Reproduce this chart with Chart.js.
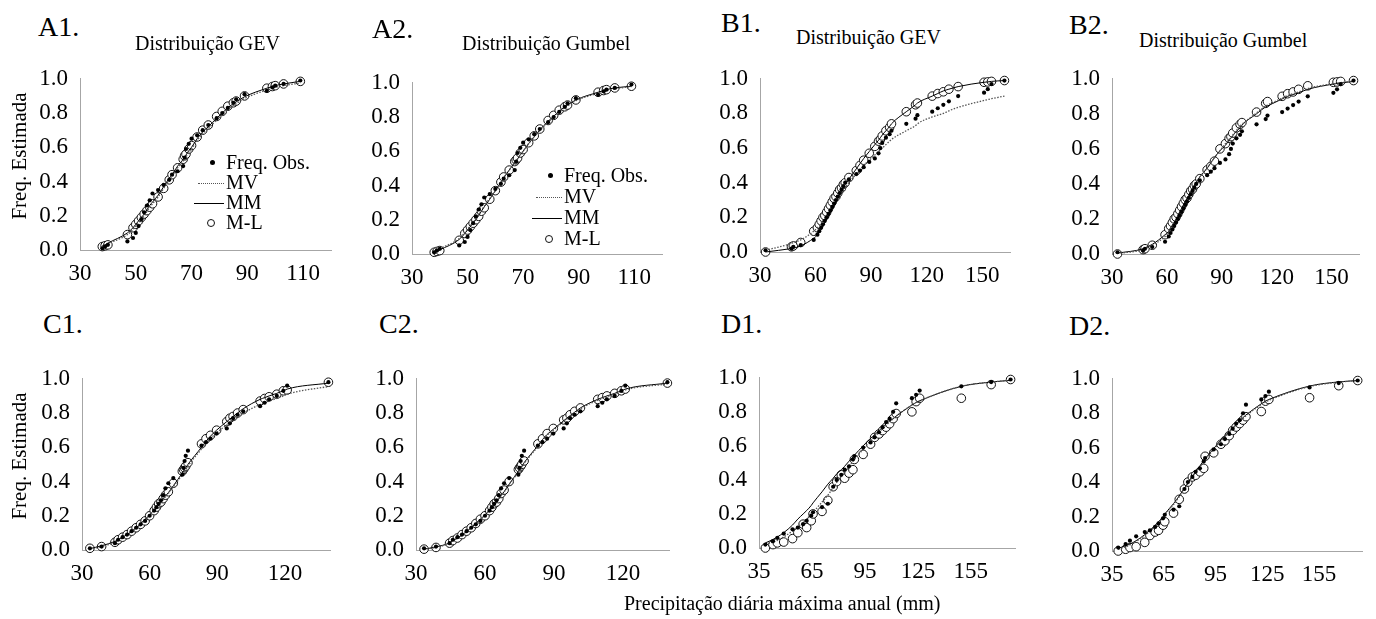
<!DOCTYPE html>
<html><head><meta charset="utf-8">
<script src="https://cdn.jsdelivr.net/npm/chart.js@4.4.0/dist/chart.umd.min.js"></script>
<style>
html,body{margin:0;padding:0;background:#fff;}
body{width:1376px;height:619px;position:relative;overflow:hidden;font-family:"Liberation Serif","Times New Roman",serif;color:#000;}
canvas{position:absolute;}
.t{position:absolute;white-space:nowrap;line-height:1;color:#000;}
.lab{font-size:28px;}
.ttl{font-size:20px;}
.yt{font-size:21px;transform:translate(-50%,-50%) rotate(-90deg);}
.lg{position:absolute;font-size:20px;line-height:1;white-space:nowrap;}
.sym{position:absolute;}
</style></head>
<body>
<script>
// ---------- data ----------
const yTicks = [0, 0.2, 0.4, 0.6, 0.8, 1.0];
const xTicksA = [30, 50, 70, 90, 110];
const xTicksB = [30, 60, 90, 120, 150];
const xTicksC = [30, 60, 90, 120];
const xTicksD = [35, 65, 95, 125, 155];

const panelNames = ['A1.', 'A2.', 'B1.', 'B2.', 'C1.', 'C2.', 'D1.', 'D2.'];
const panelTitles = ['Distribuição GEV', 'Distribuição Gumbel', 'Distribuição GEV', 'Distribuição Gumbel', '', '', '', ''];
const seriesNames = ['Freq. Obs.', 'MV', 'MM', 'M-L'];
const yAxisTitle = 'Freq. Estimada';
const xAxisTitle = 'Precipitação diária máxima anual (mm)';

// Station A
const precipA = [38,39,40,47,49,50,51,52,53,54,55,56,58,60,62,63,65,67,67.5,68,69,70,72,74,76,79,81,83,85,86,89,97,99,100,103,109];
const obsA = [0.01,0.02,0.03,0.05,0.07,0.10,0.14,0.18,0.22,0.26,0.29,0.33,0.35,0.38,0.41,0.44,0.46,0.49,0.54,0.59,0.62,0.65,0.67,0.70,0.73,0.77,0.80,0.83,0.86,0.88,0.91,0.93,0.95,0.96,0.97,0.99];
const mvA1 = [0.02,0.025,0.035,0.09,0.12,0.14,0.16,0.18,0.2,0.225,0.25,0.27,0.31,0.36,0.41,0.43,0.48,0.52,0.535,0.545,0.57,0.59,0.64,0.68,0.71,0.76,0.79,0.82,0.845,0.855,0.885,0.935,0.945,0.95,0.96,0.975];
const mmA1 = [0.025,0.03,0.04,0.1,0.13,0.15,0.17,0.19,0.21,0.235,0.26,0.28,0.32,0.37,0.42,0.44,0.49,0.53,0.545,0.555,0.58,0.6,0.65,0.69,0.72,0.77,0.8,0.83,0.855,0.865,0.895,0.945,0.955,0.96,0.97,0.985];
const mlA1 = [0.02,0.025,0.03,0.09,0.13,0.15,0.17,0.19,0.21,0.23,0.25,0.27,0.31,0.36,0.41,0.44,0.48,0.53,0.55,0.56,0.59,0.61,0.66,0.70,0.73,0.78,0.81,0.84,0.86,0.87,0.90,0.945,0.955,0.96,0.97,0.985];
const mvA2 = [0.015,0.02,0.03,0.09,0.125,0.145,0.165,0.185,0.205,0.23,0.255,0.28,0.325,0.37,0.42,0.445,0.49,0.535,0.545,0.555,0.58,0.6,0.645,0.685,0.72,0.77,0.8,0.83,0.855,0.865,0.895,0.94,0.95,0.955,0.965,0.978];
const mmA2 = [0.012,0.018,0.025,0.085,0.12,0.14,0.16,0.18,0.2,0.225,0.25,0.275,0.32,0.37,0.42,0.445,0.49,0.535,0.545,0.555,0.58,0.6,0.645,0.685,0.725,0.775,0.805,0.835,0.86,0.87,0.9,0.945,0.955,0.96,0.97,0.98];
const mlA2 = [0.01,0.015,0.02,0.08,0.12,0.14,0.16,0.18,0.2,0.22,0.25,0.27,0.32,0.37,0.42,0.45,0.49,0.54,0.55,0.56,0.59,0.61,0.65,0.69,0.73,0.78,0.81,0.84,0.86,0.87,0.9,0.945,0.955,0.96,0.97,0.98];

// Station B
const precipB = [33,47,48,52,59,61,62,63,64,65,66,67,68,69,70,71,72,73,74,75,76,78,82,84,86,89,92,94,95,96,98,100,101,109,114,115,123,126,129,132,137,151,153,155,162];
const obsB = [0.01,0.02,0.03,0.04,0.07,0.1,0.12,0.14,0.16,0.18,0.2,0.22,0.24,0.26,0.28,0.3,0.32,0.34,0.36,0.38,0.4,0.42,0.45,0.47,0.49,0.52,0.54,0.57,0.6,0.63,0.66,0.68,0.7,0.74,0.77,0.79,0.81,0.83,0.85,0.87,0.9,0.92,0.94,0.97,0.99];
const mvB1 = [0.01,0.05,0.055,0.07,0.12,0.14,0.15,0.165,0.18,0.195,0.21,0.225,0.24,0.26,0.275,0.29,0.31,0.325,0.34,0.355,0.37,0.4,0.45,0.47,0.5,0.53,0.56,0.58,0.59,0.6,0.62,0.64,0.65,0.7,0.73,0.74,0.78,0.79,0.8,0.815,0.835,0.875,0.88,0.885,0.9];
const mmB1 = [0.0,0.02,0.022,0.035,0.08,0.1,0.12,0.13,0.15,0.17,0.19,0.21,0.23,0.25,0.27,0.29,0.31,0.33,0.35,0.37,0.39,0.42,0.48,0.51,0.54,0.58,0.62,0.645,0.66,0.675,0.7,0.725,0.74,0.81,0.85,0.86,0.9,0.915,0.93,0.94,0.955,0.98,0.982,0.985,0.99];
const mlB1 = [0.0,0.03,0.035,0.055,0.12,0.14,0.16,0.18,0.2,0.21,0.23,0.25,0.27,0.29,0.31,0.32,0.34,0.36,0.37,0.39,0.4,0.43,0.47,0.5,0.53,0.57,0.61,0.64,0.65,0.67,0.7,0.72,0.74,0.81,0.85,0.86,0.9,0.915,0.925,0.94,0.955,0.98,0.982,0.985,0.99];
const mvB2 = [0.003,0.025,0.03,0.05,0.1,0.125,0.14,0.155,0.175,0.19,0.21,0.23,0.25,0.27,0.29,0.31,0.33,0.35,0.37,0.385,0.405,0.44,0.49,0.52,0.55,0.59,0.63,0.655,0.665,0.68,0.705,0.73,0.74,0.805,0.845,0.85,0.89,0.905,0.915,0.925,0.945,0.972,0.975,0.978,0.988];
const mmB2 = [0.005,0.03,0.035,0.055,0.11,0.13,0.15,0.165,0.18,0.2,0.22,0.24,0.26,0.28,0.3,0.315,0.335,0.355,0.37,0.39,0.41,0.44,0.49,0.52,0.55,0.59,0.62,0.65,0.66,0.675,0.7,0.72,0.735,0.8,0.84,0.845,0.885,0.9,0.91,0.92,0.94,0.97,0.973,0.976,0.985];
const mlB2 = [0.0,0.025,0.03,0.05,0.11,0.145,0.16,0.18,0.2,0.21,0.23,0.25,0.27,0.29,0.31,0.32,0.34,0.36,0.37,0.39,0.4,0.43,0.48,0.5,0.53,0.6,0.63,0.66,0.67,0.69,0.72,0.74,0.75,0.81,0.86,0.87,0.9,0.915,0.925,0.94,0.96,0.98,0.982,0.985,0.99];

// Station C
const precipC = [33.5,38.7,44.6,46,48,50,52,54,56,58,60,62,63,64,65,66,67,68.3,70.5,74.5,75,75.5,76,77,83,85,87,89.7,94.2,95.6,97,99,101.5,109,111,113,116.4,119.3,121,139.3];
const obsC = [0.01,0.02,0.04,0.06,0.075,0.09,0.11,0.13,0.15,0.17,0.2,0.23,0.25,0.27,0.29,0.32,0.36,0.39,0.42,0.44,0.48,0.52,0.55,0.58,0.61,0.63,0.65,0.68,0.71,0.74,0.77,0.79,0.81,0.84,0.86,0.88,0.9,0.93,0.96,0.98];
const mvC1 = [0.005,0.02,0.045,0.055,0.07,0.085,0.105,0.125,0.15,0.175,0.2,0.23,0.245,0.26,0.275,0.295,0.31,0.33,0.37,0.44,0.45,0.46,0.47,0.49,0.59,0.62,0.65,0.685,0.73,0.745,0.76,0.78,0.8,0.85,0.86,0.87,0.885,0.9,0.91,0.955];
const mmC1 = [0.008,0.025,0.05,0.06,0.075,0.09,0.11,0.13,0.155,0.18,0.205,0.235,0.25,0.265,0.28,0.3,0.315,0.335,0.375,0.45,0.46,0.47,0.48,0.5,0.6,0.635,0.665,0.7,0.75,0.765,0.78,0.8,0.825,0.88,0.89,0.9,0.915,0.93,0.94,0.975];
const mlC1 = [0.01,0.02,0.045,0.06,0.075,0.09,0.11,0.13,0.15,0.17,0.2,0.23,0.25,0.27,0.28,0.3,0.32,0.34,0.39,0.46,0.47,0.48,0.49,0.51,0.62,0.65,0.67,0.7,0.75,0.77,0.78,0.8,0.82,0.87,0.885,0.895,0.91,0.93,0.935,0.98];
const mvC2 = [0.004,0.016,0.04,0.053,0.068,0.086,0.106,0.128,0.152,0.178,0.203,0.232,0.248,0.262,0.278,0.298,0.318,0.338,0.382,0.455,0.465,0.475,0.485,0.505,0.605,0.64,0.67,0.7,0.75,0.765,0.78,0.8,0.825,0.875,0.885,0.895,0.91,0.925,0.935,0.97];
const mmC2 = [0.005,0.018,0.042,0.055,0.07,0.088,0.108,0.13,0.155,0.18,0.205,0.235,0.25,0.265,0.28,0.3,0.32,0.34,0.385,0.46,0.47,0.48,0.49,0.51,0.61,0.645,0.675,0.705,0.755,0.77,0.785,0.805,0.83,0.88,0.89,0.9,0.915,0.93,0.94,0.975];
const mlC2 = [0.005,0.015,0.04,0.055,0.07,0.09,0.11,0.13,0.155,0.18,0.2,0.23,0.25,0.27,0.28,0.3,0.33,0.35,0.4,0.47,0.48,0.49,0.5,0.52,0.62,0.65,0.68,0.71,0.76,0.77,0.79,0.81,0.83,0.88,0.89,0.9,0.915,0.93,0.94,0.975];

// Station D
const precipD = [38.6,42.9,45.4,49,54,57,60,62,64.6,65.6,70.7,74,77,79,81.6,83.5,86,88.2,89,94,98.2,100.5,103,105,107,109,111,112.7,121.6,124,126,149.6,166.5,177.5];
const obsD = [0.02,0.04,0.06,0.085,0.11,0.12,0.14,0.16,0.19,0.21,0.24,0.26,0.36,0.4,0.43,0.46,0.48,0.52,0.54,0.59,0.62,0.65,0.68,0.71,0.74,0.76,0.8,0.85,0.88,0.9,0.925,0.95,0.975,0.99];
const mvD1 = [0.02,0.035,0.045,0.065,0.1,0.125,0.15,0.17,0.2,0.21,0.27,0.31,0.355,0.385,0.42,0.445,0.48,0.51,0.52,0.58,0.63,0.655,0.68,0.7,0.72,0.74,0.76,0.775,0.84,0.855,0.865,0.95,0.975,0.985];
const mmD1 = [0.03,0.05,0.065,0.09,0.135,0.17,0.2,0.22,0.25,0.265,0.33,0.375,0.41,0.435,0.46,0.48,0.51,0.535,0.545,0.6,0.645,0.665,0.69,0.71,0.73,0.745,0.76,0.775,0.84,0.855,0.865,0.95,0.975,0.985];
const mlD1 = [0.0,0.02,0.03,0.035,0.055,0.09,0.14,0.12,0.16,0.2,0.215,0.28,0.36,0.39,0.43,0.41,0.44,0.46,0.52,0.55,0.61,0.65,0.67,0.69,0.71,0.73,0.76,0.79,0.8,0.86,0.88,0.88,0.96,0.99];
const mvD2 = [0.01,0.025,0.035,0.055,0.09,0.115,0.145,0.165,0.195,0.21,0.27,0.315,0.36,0.39,0.43,0.455,0.49,0.52,0.53,0.59,0.64,0.665,0.69,0.71,0.73,0.75,0.77,0.785,0.85,0.865,0.875,0.955,0.98,0.99];
const mmD2 = [0.015,0.03,0.04,0.06,0.095,0.12,0.15,0.17,0.2,0.215,0.275,0.32,0.365,0.395,0.435,0.46,0.495,0.525,0.535,0.595,0.645,0.67,0.695,0.715,0.735,0.755,0.775,0.79,0.855,0.87,0.88,0.958,0.982,0.99];
const mlD2 = [0.0,0.01,0.02,0.025,0.05,0.09,0.11,0.12,0.15,0.17,0.22,0.3,0.36,0.4,0.43,0.44,0.46,0.48,0.55,0.57,0.62,0.64,0.67,0.7,0.72,0.74,0.76,0.78,0.81,0.87,0.88,0.89,0.96,0.99];

// ---------- layout (plot-area boxes, axis ranges) ----------
const FONT = '"Liberation Serif","Times New Roman",serif';
const panels = [
  {name:0, box:{L:80,  T:63,  R:331,  B:250}, xmin:30, xmax:120, ticks:xTicksA, x:precipA, obs:obsA, mv:mvA1, mm:mmA1, ml:mlA1, lab:[38,13], ttl:[135,33]},
  {name:1, box:{L:412, T:67,  R:662,  B:254}, xmin:30, xmax:120, ticks:xTicksA, x:precipA, obs:obsA, mv:mvA2, mm:mmA2, ml:mlA2, lab:[372,15], ttl:[462,33]},
  {name:2, box:{L:760, T:63,  R:1010, B:252}, xmin:30, xmax:165, ticks:xTicksB, x:precipB, obs:obsB, mv:mvB1, mm:mmB1, ml:mlB1, lab:[721,9], ttl:[796,27]},
  {name:3, box:{L:1112,T:63,  R:1359, B:254}, xmin:30, xmax:165, ticks:xTicksB, x:precipB, obs:obsB, mv:mvB2, mm:mmB2, ml:mlB2, lab:[1069,11], ttl:[1139,30]},
  {name:4, box:{L:82,  T:363, R:330,  B:550}, xmin:30, xmax:140, ticks:xTicksC, x:precipC, obs:obsC, mv:mvC1, mm:mmC1, ml:mlC1, lab:[43,310]},
  {name:5, box:{L:416, T:363, R:669,  B:550}, xmin:30, xmax:140, ticks:xTicksC, x:precipC, obs:obsC, mv:mvC2, mm:mmC2, ml:mlC2, lab:[379,310]},
  {name:6, box:{L:759, T:362, R:1015, B:548}, xmin:35, xmax:180, ticks:xTicksD, x:precipD, obs:obsD, mv:mvD1, mm:mmD1, ml:mlD1, lab:[721,310]},
  {name:7, box:{L:1112,T:363, R:1362, B:551}, xmin:35, xmax:180, ticks:xTicksD, x:precipD, obs:obsD, mv:mvD2, mm:mmD2, ml:mlD2, lab:[1069,312]}
];

function addText(cls, txt, x, y, extra){
  const d = document.createElement('div');
  d.className = 't ' + cls; d.textContent = txt;
  d.style.left = x + 'px'; d.style.top = y + 'px';
  if (extra) Object.assign(d.style, extra);
  document.body.appendChild(d); return d;
}

const padL = 70, padT = 10, padR = 12, padB = 45;
function pts(xs, ys){ return xs.map((x,i)=>({x:x, y:ys[i]})); }

panels.forEach(p=>{
  const b = p.box;
  const w = (b.R - b.L) + padL + padR, h = (b.B - b.T) + padT + padB;
  const cv = document.createElement('canvas');
  cv.width = w; cv.height = h;
  cv.style.left = (b.L - padL) + 'px'; cv.style.top = (b.T - padT) + 'px';
  cv.style.width = w + 'px'; cv.style.height = h + 'px';
  document.body.appendChild(cv);
  new Chart(cv, {
    type: 'scatter',
    data: { datasets: [
      {label: seriesNames[0], data: pts(p.x, p.obs), showLine:false, pointRadius:2.1, pointBackgroundColor:'#000', pointBorderColor:'#000', pointBorderWidth:0, clip:false},
      {label: seriesNames[1], data: pts(p.x, p.mv), showLine:true, borderColor:'#555', borderWidth:1.3, borderDash:[1.5,1.5], pointRadius:0, cubicInterpolationMode:'monotone', fill:false, clip:false},
      {label: seriesNames[2], data: pts(p.x, p.mm), showLine:true, borderColor:'#000', borderWidth:1, pointRadius:0, cubicInterpolationMode:'monotone', fill:false, clip:false},
      {label: seriesNames[3], data: pts(p.x, p.ml), showLine:false, pointRadius:4.3, pointBackgroundColor:'#fff', pointBorderColor:'#111', pointBorderWidth:1, clip:false}
    ]},
    options: {
      responsive:false, maintainAspectRatio:false, animation:false,
      layout:{padding:{left:0, top:padT, right:padR, bottom:0}},
      plugins:{legend:{display:false}, tooltip:{enabled:false}},
      scales:{
        x:{type:'linear', min:p.xmin, max:p.xmax,
           afterBuildTicks: s=>{ s.ticks = p.ticks.map(v=>({value:v})); },
           afterFit: s=>{ s.height = padB; },
           grid:{display:false, drawTicks:false},
           border:{display:true, color:'#a6a6a6', width:1, dash:[2,1]},
           ticks:{font:{family:FONT, size:23}, color:'#000', padding:10, maxRotation:0, autoSkip:false}},
        y:{type:'linear', min:0, max:1,
           afterBuildTicks: s=>{ s.ticks = yTicks.map(v=>({value:v})); },
           afterFit: s=>{ s.width = padL; },
           grid:{display:false, drawTicks:false},
           border:{display:true, color:'#a6a6a6', width:1, dash:[2,1]},
           ticks:{font:{family:FONT, size:23}, color:'#000', padding:12, callback:v=>Number(v).toFixed(1)}}
      }
    }
  });
  addText('lab', panelNames[p.name], p.lab[0], p.lab[1]);
  if (p.ttl && panelTitles[p.name]) addText('ttl', panelTitles[p.name], p.ttl[0], p.ttl[1]);
});

// axis titles
addText('yt', yAxisTitle, 19, 156);
addText('yt', yAxisTitle, 19, 456);
addText('ttl', xAxisTitle, 624, 593);

// legends (A1, A2)
function legend(x0, y0, step){
  const sy = [0,1,2,3].map(i=>y0 + i*step);
  seriesNames.forEach((n,i)=>{
    const d = document.createElement('div'); d.className='lg'; d.textContent=n;
    d.style.left = (x0 + 28) + 'px'; d.style.top = (sy[i]-10) + 'px';
    document.body.appendChild(d);
  });
  const mk = (css)=>{ const s=document.createElement('div'); s.className='sym'; Object.assign(s.style, css); document.body.appendChild(s); };
  mk({left:(x0+12)+'px', top:(sy[0]-2)+'px', width:'5px', height:'5px', borderRadius:'50%', background:'#000'});
  mk({left:(x0)+'px', top:(sy[1]+1)+'px', width:'26px', height:'0', borderTop:'1.5px dotted #555'});
  mk({left:(x0-4)+'px', top:(sy[2]+1)+'px', width:'30px', height:'0', borderTop:'1px solid #000'});
  mk({left:(x0+9)+'px', top:(sy[3]-3)+'px', width:'8px', height:'8px', borderRadius:'50%', border:'1px solid #111', boxSizing:'border-box', background:'#fff'});
}
legend(198, 162, 20);
legend(536, 175, 21);
</script>
</body></html>
